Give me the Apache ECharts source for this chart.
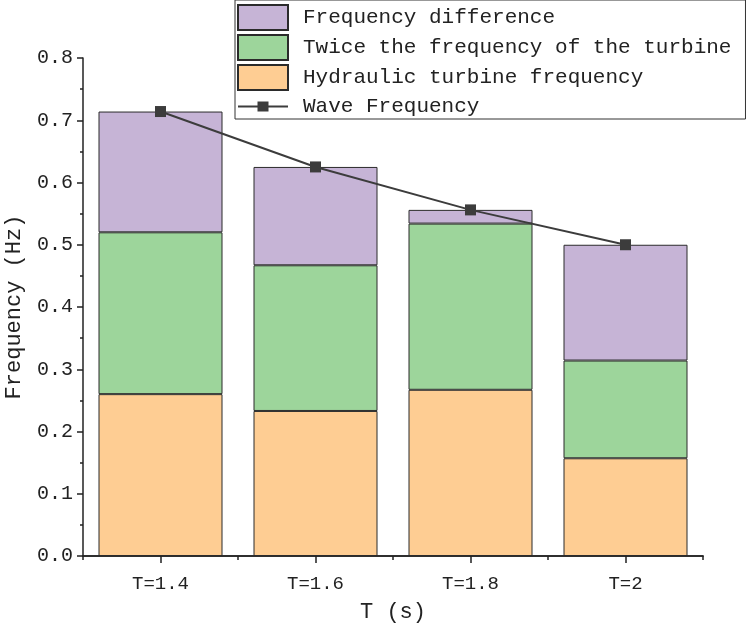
<!DOCTYPE html>
<html>
<head>
<meta charset="utf-8">
<script src="https://cdn.jsdelivr.net/npm/echarts@6/dist/echarts.min.js"></script>
<style>html,body{margin:0;padding:0;background:#fff}#c{width:750px;height:629px}</style>
</head>
<body>
<div id="c"></div>
<script>
var categories = ['T=1.4', 'T=1.6', 'T=1.8', 'T=2'];
var hydraulicTurbine = [0.260, 0.233, 0.267, 0.157];
var twiceTurbineSegment = [0.260, 0.234, 0.267, 0.157];
var frequencyDifference = [0.194, 0.158, 0.022, 0.186];
var waveFrequency = [0.714, 0.625, 0.556, 0.500];
var yTicks = [0, 0.1, 0.2, 0.3, 0.4, 0.5, 0.6, 0.7, 0.8];

var FONT = 'Liberation Mono';
var chart = echarts.init(document.getElementById('c'));
var barBorder = {borderColor: '#2b2b2b', borderWidth: 1};
var lineIcon = 'path://M0,0 L0.01,0 L0,0.01 Z M50,25 L49.99,25 L50,24.99 Z M0,11.5 L50,11.5 L50,13.5 L0,13.5 Z M19.5,7.5 L30.5,7.5 L30.5,17.5 L19.5,17.5 Z';
chart.setOption({
  animation: false,
  backgroundColor: '#fff',
  textStyle: {fontFamily: FONT},
  grid: {left: 83, right: 47, top: 58, bottom: 73, outerBoundsMode: 'none', containLabel: false},
  legend: {
    orient: 'vertical', left: 235, top: 0,
    padding: [4, 14, 0, 2],
    itemWidth: 50, itemHeight: 25, itemGap: 3,
    borderColor: '#333', borderWidth: 1,
    textStyle: {fontFamily: FONT, fontSize: 21, color: '#222', padding: [0, 0, 0, 10]},
    data: [
      {name: 'Frequency difference', icon: 'rect'},
      {name: 'Twice the frequency of the turbine', icon: 'rect'},
      {name: 'Hydraulic turbine frequency', icon: 'rect'},
      {name: 'Wave Frequency', icon: lineIcon, itemStyle: {color: '#3c3c3c', borderWidth: 0}}
    ]
  },
  xAxis: [{
    type: 'category', data: categories, position: 'bottom',
    name: 'T (s)', nameLocation: 'middle', nameGap: 45,
    nameTextStyle: {fontFamily: FONT, fontSize: 22, color: '#222'},
    axisLine: {show: true, lineStyle: {color: '#222', width: 1.5}},
    axisTick: {show: true, alignWithLabel: true, length: 7, lineStyle: {color: '#222', width: 1.5}},
    axisLabel: {fontFamily: FONT, fontSize: 19, color: '#222', margin: 18},
    splitLine: {show: false}
  }, {
    type: 'category', data: categories, position: 'bottom',
    axisLine: {show: true, lineStyle: {color: '#222', width: 1.5}},
    axisTick: {show: true, length: 4, lineStyle: {color: '#222', width: 1.5}},
    axisLabel: {show: false},
    splitLine: {show: false}
  }],
  yAxis: {
    type: 'value', min: 0, max: 0.8, interval: 0.1,
    name: 'Frequency (Hz)', nameLocation: 'middle', nameGap: 58,
    nameTextStyle: {fontFamily: FONT, fontSize: 22, color: '#222'},
    axisLine: {show: true, lineStyle: {color: '#222', width: 1.5}},
    axisTick: {show: true, length: 6, lineStyle: {color: '#222', width: 1.5}},
    minorTick: {show: true, splitNumber: 2, length: 3, lineStyle: {color: '#222', width: 1.5}},
    axisLabel: {fontFamily: FONT, fontSize: 20, color: '#222', margin: 10,
      formatter: function (v) { return v.toFixed(1); }},
    splitLine: {show: false}
  },
  series: [{
    name: 'Hydraulic turbine frequency', type: 'bar', stack: 's', barCategoryGap: '20%',
    itemStyle: Object.assign({color: '#fecd93'}, barBorder), data: hydraulicTurbine
  }, {
    name: 'Twice the frequency of the turbine', type: 'bar', stack: 's',
    itemStyle: Object.assign({color: '#9dd59b'}, barBorder), data: twiceTurbineSegment
  }, {
    name: 'Frequency difference', type: 'bar', stack: 's',
    itemStyle: Object.assign({color: '#c6b4d6'}, barBorder), data: frequencyDifference
  }, {
    name: 'Wave Frequency', type: 'line', z: 10,
    symbol: 'rect', symbolSize: 11,
    lineStyle: {color: '#3c3c3c', width: 2},
    itemStyle: {color: '#3c3c3c'},
    data: waveFrequency
  }]
});
</script>
</body>
</html>
